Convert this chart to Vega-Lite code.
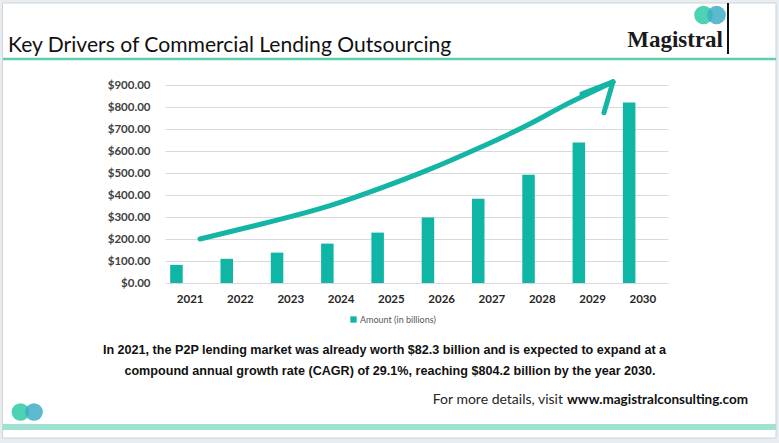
{
  "$schema": "https://vega.github.io/schema/vega-lite/v6.json",
  "width": 503,
  "height": 198,
  "autosize": {"type": "none"},
  "padding": {"left": 165, "top": 85, "right": 111, "bottom": 160},
  "background": "#ffffff",
  "config": {"view": {"stroke": null}, "font": "Lato"},
  "datasets": {
    "bars": [
      {"year": "2021", "amount": 82.3},
      {"year": "2022", "amount": 110},
      {"year": "2023", "amount": 138},
      {"year": "2024", "amount": 179},
      {"year": "2025", "amount": 229},
      {"year": "2026", "amount": 298},
      {"year": "2027", "amount": 383},
      {"year": "2028", "amount": 492},
      {"year": "2029", "amount": 639},
      {"year": "2030", "amount": 820}
    ],
    "arrow": [
      {"part": "curve", "yearPos": 2021.196, "value": 200},
      {"part": "curve", "yearPos": 2022.786, "value": 288},
      {"part": "curve", "yearPos": 2023.78, "value": 348},
      {"part": "curve", "yearPos": 2024.774, "value": 429},
      {"part": "curve", "yearPos": 2025.768, "value": 515},
      {"part": "curve", "yearPos": 2026.762, "value": 615},
      {"part": "curve", "yearPos": 2027.756, "value": 720},
      {"part": "curve", "yearPos": 2028.412, "value": 807},
      {"part": "curve", "yearPos": 2029.009, "value": 870},
      {"part": "curve", "yearPos": 2029.406, "value": 914},
      {"part": "arm1", "yearPos": 2028.79, "value": 860},
      {"part": "arm1", "yearPos": 2029.406, "value": 914},
      {"part": "arm2", "yearPos": 2029.227, "value": 774},
      {"part": "arm2", "yearPos": 2029.406, "value": 914}
    ],
    "one": [{}]
  },
  "layer": [
    {
      "data": {"name": "one"},
      "mark": {"type": "rect", "x": -165, "x2": 614, "y": -85, "y2": -82, "fill": "#e7edf0"},
      "encoding": {}
    },
    {
      "data": {"name": "one"},
      "mark": {"type": "rect", "x": -165, "x2": 614, "y": 353, "y2": 358, "fill": "#e7edf0"},
      "encoding": {}
    },
    {
      "data": {"name": "one"},
      "mark": {"type": "rect", "x": -165, "x2": -162.5, "y": -85, "y2": 358, "fill": "#e7edf0"},
      "encoding": {}
    },
    {
      "data": {"name": "one"},
      "mark": {"type": "rect", "x": 611, "x2": 614, "y": -85, "y2": 358, "fill": "#e7edf0"},
      "encoding": {}
    },
    {
      "data": {"name": "one"},
      "mark": {"type": "rect", "x": -162.5, "x2": 611, "y": -82, "y2": 353, "fill": null, "fillOpacity": 0, "stroke": "#cfd4d7", "strokeWidth": 1},
      "encoding": {}
    },
    {
      "data": {"name": "one"},
      "mark": {"type": "rect", "x": -162, "x2": 611, "y": -27.2, "y2": -24.8, "fill": "#5fcfb2"},
      "encoding": {}
    },
    {
      "data": {"name": "one"},
      "mark": {"type": "rect", "x": -162, "x2": 611, "y": 339, "y2": 345, "fill": "#9ee2cf"},
      "encoding": {}
    },
    {
      "data": {"name": "bars"},
      "mark": {"type": "bar", "width": 12.5, "xOffset": -13.7},
      "encoding": {
        "x": {
          "field": "year", "type": "ordinal",
          "scale": {"paddingInner": 0, "paddingOuter": 0},
          "axis": {"title": null, "labelAngle": 0, "labelFont": "Lato", "labelFontWeight": "bold", "labelFontSize": 11.5, "labelColor": "#262626", "ticks": false, "domain": false, "labelPadding": 10}
        },
        "y": {
          "field": "amount", "type": "quantitative",
          "scale": {"domain": [0, 900], "nice": false},
          "axis": {"title": null, "format": "$.2f", "tickCount": 10, "labelFont": "Lato", "labelFontWeight": "bold", "labelFontSize": 11.5, "labelColor": "#404040", "grid": true, "gridColor": "#d9d9d9", "domain": false, "ticks": false, "labelPadding": 15}
        },
        "color": {
          "datum": "Amount (in billions)",
          "scale": {"range": ["#0fb5a5"]},
          "legend": {"orient": "none", "legendX": 184, "legendY": 230, "direction": "horizontal", "title": null, "symbolType": "square", "symbolSize": 40, "labelFontSize": 9, "labelColor": "#595959", "labelFont": "Lato", "labelOffset": 2, "padding": 0}
        }
      }
    },
    {
      "data": {"name": "arrow"},
      "mark": {"type": "line", "interpolate": "basis", "strokeWidth": 5, "color": "#13b5a4", "strokeCap": "round", "strokeJoin": "round"},
      "encoding": {
        "x": {"field": "yearPos", "type": "quantitative", "scale": {"domain": [2020.5, 2030.5], "nice": false, "zero": false}, "axis": null},
        "y": {"field": "value", "type": "quantitative", "scale": {"domain": [0, 900], "nice": false}},
        "detail": {"field": "part"}
      }
    },
    {
      "data": {"name": "one"},
      "mark": {"type": "text", "text": "Key Drivers of Commercial Lending Outsourcing", "x": -157, "y": -33, "align": "left", "baseline": "alphabetic", "fontSize": 21.1, "font": "Lato", "color": "#111111"},
      "encoding": {}
    },
    {
      "data": {"name": "one"},
      "mark": {"type": "text", "text": "Magistral", "x": 558, "y": -38, "align": "right", "baseline": "alphabetic", "fontSize": 23, "font": "Liberation Serif", "fontWeight": "bold", "color": "#1a1a1a"},
      "encoding": {}
    },
    {
      "data": {"name": "one"},
      "mark": {"type": "rect", "x": 562, "x2": 564, "y": -82, "y2": -31, "fill": "#111111"},
      "encoding": {}
    },
    {
      "data": {"name": "one"},
      "mark": {"type": "point", "shape": "circle", "filled": true, "x": 538.5, "y": -70, "size": 346, "color": "#4dd2b4", "opacity": 1},
      "encoding": {}
    },
    {
      "data": {"name": "one"},
      "mark": {"type": "point", "shape": "circle", "filled": true, "x": 551.5, "y": -70, "size": 346, "color": "#3eaec4", "opacity": 0.85},
      "encoding": {}
    },
    {
      "data": {"name": "one"},
      "mark": {"type": "point", "shape": "circle", "filled": true, "x": -144.5, "y": 327, "size": 314, "color": "#4dd2b4", "opacity": 1},
      "encoding": {}
    },
    {
      "data": {"name": "one"},
      "mark": {"type": "point", "shape": "circle", "filled": true, "x": -131, "y": 327, "size": 314, "color": "#3eaec4", "opacity": 0.85},
      "encoding": {}
    },
    {
      "data": {"name": "one"},
      "mark": {"type": "text", "text": "In 2021, the P2P lending market was already worth $82.3 billion and is expected to expand at a", "x": 219.5, "y": 269, "align": "center", "baseline": "alphabetic", "fontSize": 12.6, "font": "Liberation Sans", "fontWeight": "bold", "color": "#111111"},
      "encoding": {}
    },
    {
      "data": {"name": "one"},
      "mark": {"type": "text", "text": "compound annual growth rate (CAGR) of 29.1%, reaching $804.2 billion by the year 2030.", "x": 225, "y": 290, "align": "center", "baseline": "alphabetic", "fontSize": 12.6, "font": "Liberation Sans", "fontWeight": "bold", "color": "#111111"},
      "encoding": {}
    },
    {
      "data": {"name": "one"},
      "mark": {"type": "text", "text": "For more details, visit", "x": 398, "y": 319, "align": "right", "baseline": "alphabetic", "fontSize": 14, "font": "Lato", "color": "#262626"},
      "encoding": {}
    },
    {
      "data": {"name": "one"},
      "mark": {"type": "text", "text": "www.magistralconsulting.com", "x": 402, "y": 319, "align": "left", "baseline": "alphabetic", "fontSize": 13.5, "font": "Lato", "fontWeight": "bold", "color": "#111111"},
      "encoding": {}
    }
  ],
  "resolve": {"scale": {"x": "independent"}}
}
